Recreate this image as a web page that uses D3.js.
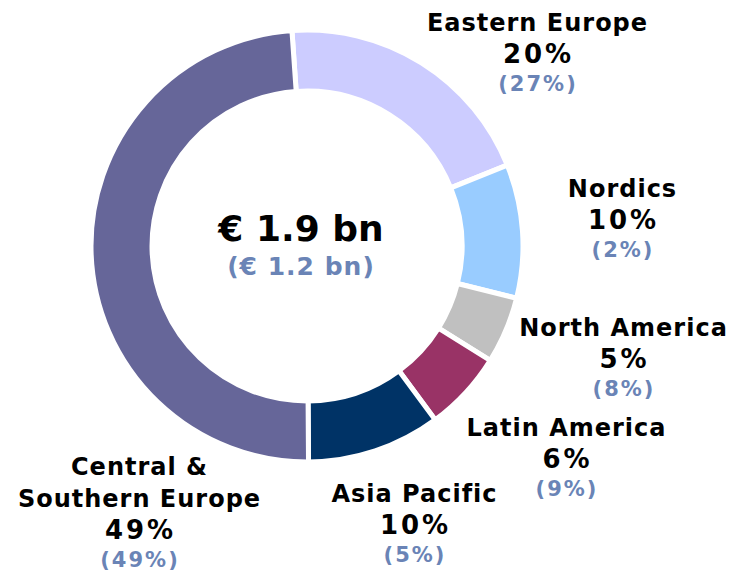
<!DOCTYPE html>
<html>
<head>
<meta charset="utf-8">
<script src="https://cdn.jsdelivr.net/npm/d3@7"></script>
<style>
  body { margin: 0; background: #fff; }
  svg text { font-family: "DejaVu Sans", Verdana, sans-serif; font-weight: bold; }
</style>
</head>
<body>
<div id="chart"></div>
<script>
// Data
const regions = ["Eastern Europe", "Nordics", "North America", "Latin America", "Asia Pacific", "Central & Southern Europe"];
const shares = [20, 10, 5, 6, 10, 49];          // current share, %
const priorShares = [27, 2, 8, 9, 5, 49];       // prior share (in brackets), %
const totalLabel = "€ 1.9 bn";
const priorTotalLabel = "(€ 1.2 bn)";

const colors = ["#ccccff", "#99ccff", "#c0c0c0", "#993366", "#003366", "#666699"];

// Label layout: centre x, first baseline, and line breaks of the name
const labelLayout = [
  {x: 537, y: 31, lines: ["Eastern Europe"]},
  {x: 622, y: 197, lines: ["Nordics"]},
  {x: 623, y: 336, lines: ["North America"]},
  {x: 566, y: 436, lines: ["Latin America"]},
  {x: 414, y: 502, lines: ["Asia Pacific"]},
  {x: 139, y: 475, lines: ["Central &", "Southern Europe"]}
];

const width = 733, height = 574;
const cx = 307, cy = 246, outerR = 216, innerR = 155;

const svg = d3.select("#chart").append("svg")
    .attr("width", width)
    .attr("height", height);

const g = svg.append("g")
    .attr("transform", "translate(" + cx + "," + cy + ")");

const offset = -4 * Math.PI / 180;
const pie = d3.pie()
    .sort(null)
    .startAngle(offset)
    .endAngle(offset + 2 * Math.PI);

const arc = d3.arc()
    .innerRadius(innerR)
    .outerRadius(outerR);

g.selectAll(".slice")
  .data(pie(shares))
  .enter().append("path")
    .attr("class", "slice")
    .attr("d", arc)
    .attr("fill", (d, i) => colors[i])
    .attr("stroke", "#fff")
    .attr("stroke-width", 5)
    .attr("stroke-linejoin", "miter");

// Centre totals
svg.append("text")
    .attr("x", 301).attr("y", 241)
    .attr("text-anchor", "middle")
    .attr("font-size", 36)
    .attr("fill", "#000")
    .text(totalLabel);

svg.append("text")
    .attr("x", 301).attr("y", 275)
    .attr("text-anchor", "middle")
    .attr("font-size", 25)
    .attr("letter-spacing", 1)
    .attr("fill", "#6a84b6")
    .text(priorTotalLabel);

// Region labels
const lineStep = 32;
regions.forEach((name, i) => {
  const L = labelLayout[i];
  const t = svg.append("text")
      .attr("text-anchor", "middle")
      .attr("font-size", 24)
      .attr("letter-spacing", 1)
      .attr("fill", "#000");
  L.lines.forEach((ln, j) => {
    t.append("tspan").attr("x", L.x + 0.5).attr("y", L.y + j * lineStep).text(ln);
  });
  const yPct = L.y + L.lines.length * lineStep;
  svg.append("text")
      .attr("x", L.x + 1.5).attr("y", yPct)
      .attr("text-anchor", "middle")
      .attr("font-size", 26)
      .attr("letter-spacing", 3)
      .attr("fill", "#000")
      .text(shares[i] + "%");
  svg.append("text")
      .attr("x", L.x + 1).attr("y", yPct + 28)
      .attr("text-anchor", "middle")
      .attr("font-size", 21)
      .attr("letter-spacing", 2)
      .attr("fill", "#6a84b6")
      .text("(" + priorShares[i] + "%)");
});
</script>
</body>
</html>
